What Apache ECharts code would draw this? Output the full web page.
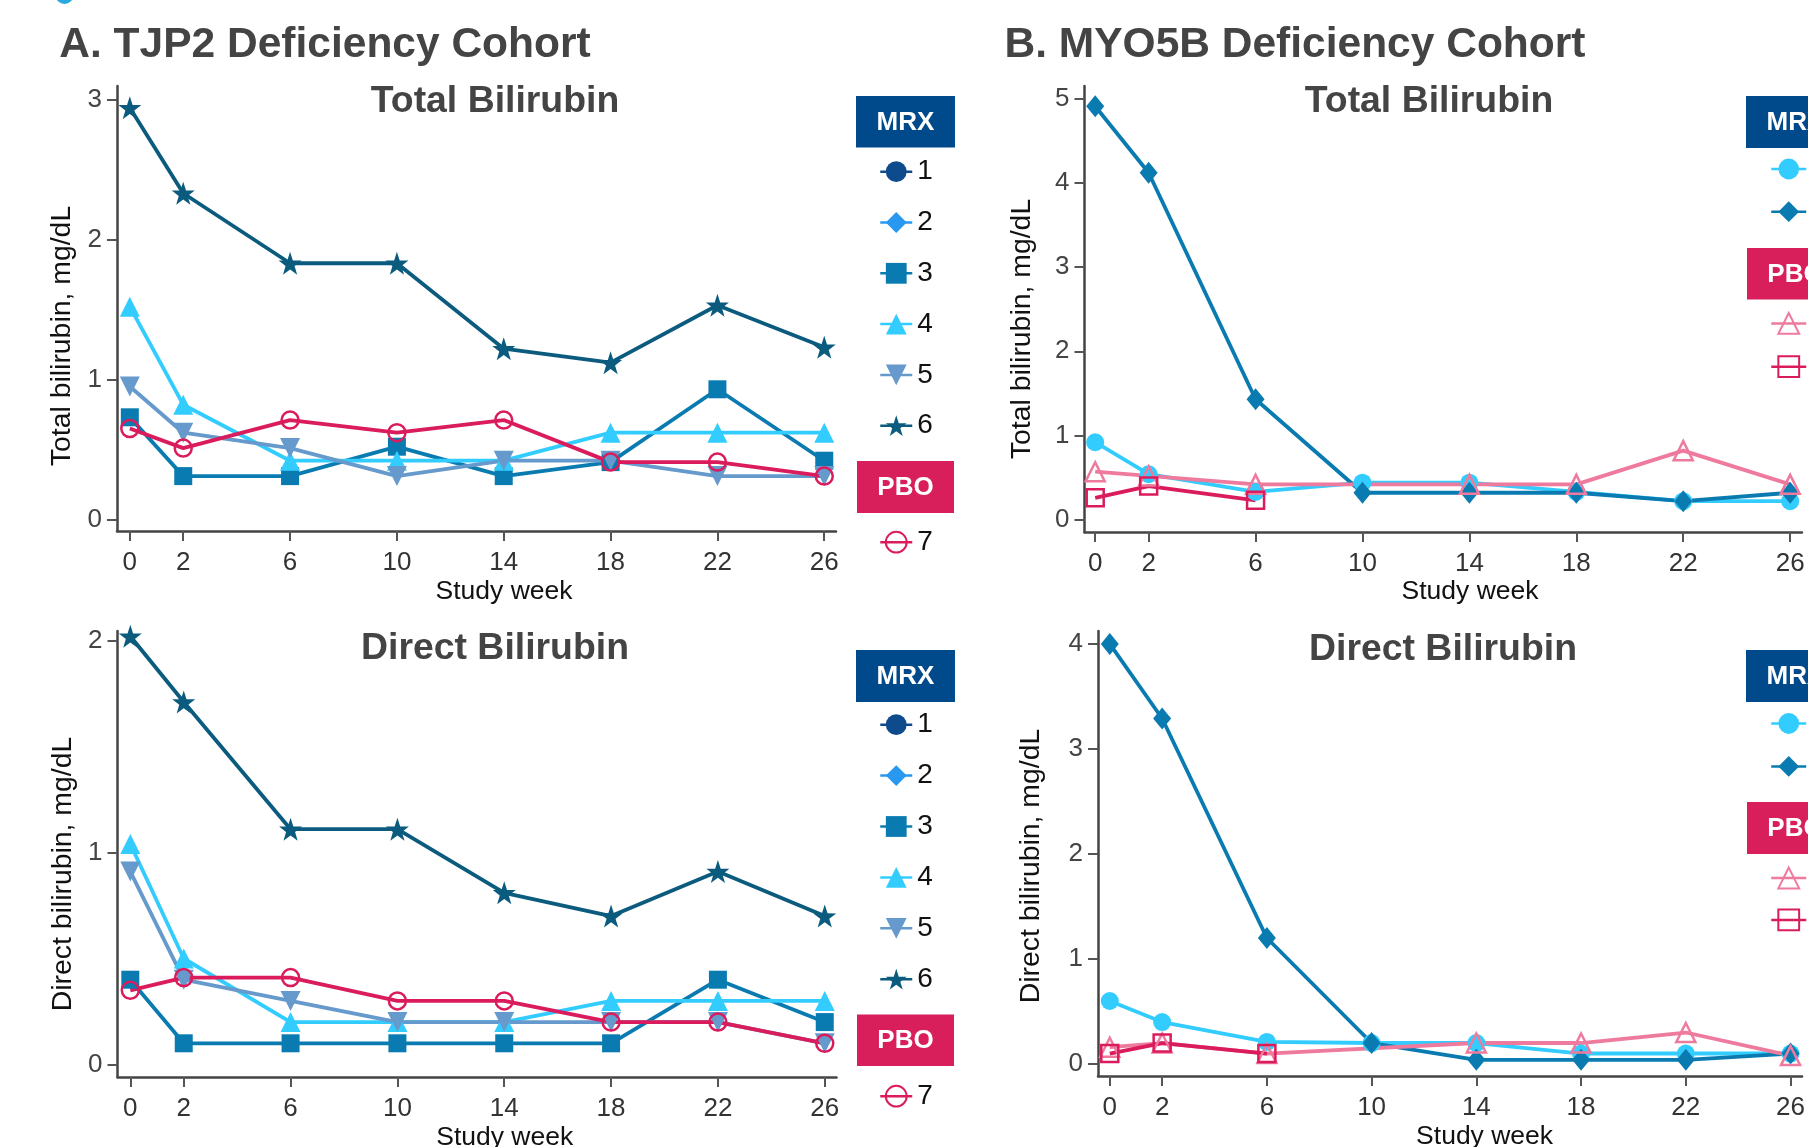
<!DOCTYPE html>
<html>
<head>
<meta charset="utf-8">
<script src="https://cdn.jsdelivr.net/npm/echarts@6/dist/echarts.min.js"></script>
<style>
html,body{margin:0;padding:0;background:#fff;overflow:hidden}
#c{width:1808px;height:1147px}
</style>
</head>
<body>
<div id="c"></div>
<script>
// ---------------- DATA ----------------
const weeks = [0, 2, 6, 10, 14, 18, 22, 26];
const weekTicks = [0, 2, 6, 10, 14, 18, 22, 26];
const aTotalTicks = [0, 1, 2, 3];
const aDirectTicks = [0, 1, 2];
const bTotalTicks = [0, 1, 2, 3, 4, 5];
const bDirectTicks = [0, 1, 2, 3, 4];

const panelTitleA = 'A. TJP2 Deficiency Cohort';
const panelTitleB = 'B. MYO5B Deficiency Cohort';
const subTotal = 'Total Bilirubin';
const subDirect = 'Direct Bilirubin';
const yNameTotal = 'Total bilirubin, mg/dL';
const yNameDirect = 'Direct bilirubin, mg/dL';
const xName = 'Study week';
const groupMRX = 'MRX';
const groupPBO = 'PBO';

// TJP2 cohort: patients 1-6 MRX, 7 PBO
const aNamesMRX = ['1', '2', '3', '4', '5', '6'];
const aNamesPBO = ['7'];
const aTotal1 = [null, null, null, null, null, null, null, null];
const aTotal2 = [null, null, null, null, null, null, null, null];
const aTotal3 = [0.73, 0.31, 0.31, 0.52, 0.31, 0.41, 0.93, 0.42];
const aTotal4 = [1.52, 0.82, 0.42, 0.42, 0.42, 0.62, 0.62, 0.62];
const aTotal5 = [0.95, 0.62, 0.51, 0.31, 0.42, 0.42, 0.31, 0.31];
const aTotal6 = [2.94, 2.33, 1.83, 1.83, 1.22, 1.12, 1.53, 1.23];
const aTotal7 = [0.65, 0.51, 0.71, 0.62, 0.71, 0.41, 0.41, 0.31];

const aDirect1 = [null, null, null, null, null, null, null, null];
const aDirect2 = [null, null, null, null, null, null, null, null];
const aDirect3 = [0.40, 0.10, 0.10, 0.10, 0.10, 0.10, 0.40, 0.20];
const aDirect4 = [1.04, 0.50, 0.20, 0.20, 0.20, 0.30, 0.30, 0.30];
const aDirect5 = [0.91, 0.40, 0.30, 0.20, 0.20, 0.20, 0.20, 0.10];
const aDirect6 = [2.02, 1.71, 1.11, 1.11, 0.81, 0.70, 0.91, 0.70];
const aDirect7 = [0.35, 0.41, 0.41, 0.30, 0.30, 0.20, 0.20, 0.10];

// MYO5B cohort: 2 MRX, 2 PBO
const bNamesMRX = ['MRX 1', 'MRX 2'];
const bNamesPBO = ['PBO 1', 'PBO 2'];
const bTotalM1 = [0.92, 0.54, 0.33, 0.44, 0.44, 0.33, 0.22, 0.22];
const bTotalM2 = [4.91, 4.12, 1.43, 0.32, 0.32, 0.32, 0.22, 0.32];
const bTotalP1 = [0.57, 0.52, 0.42, null, 0.42, 0.42, 0.82, 0.42];
const bTotalP2 = [0.26, 0.40, 0.23, null, null, null, null, null];

const bDirectM1 = [0.60, 0.40, 0.21, 0.20, 0.20, 0.10, 0.10, 0.10];
const bDirectM2 = [4.00, 3.29, 1.20, 0.20, 0.04, 0.04, 0.04, 0.10];
const bDirectP1 = [0.16, 0.20, 0.10, null, 0.20, 0.20, 0.30, 0.08];
const bDirectP2 = [0.10, 0.20, 0.10, null, null, null, null, null];

// ---------------- STYLE ----------------
const FONT = 'Liberation Sans, Arial, Helvetica, sans-serif';
const STAR = 'path://M50 0 L61.5 34.2 L97.6 34.5 L68.6 56 L79.4 90.5 L50 69.6 L20.6 90.5 L31.4 56 L2.4 34.5 L38.5 34.2 Z';
const C = {
  navy: '#0e4b8c', blue: '#2898f0', teal: '#0a7bb0', sky: '#33ccff',
  steel: '#6699cc', dark: '#0b5b7e', crimson: '#da1c5c', pink: '#ee7a9e',
  mrxBox: '#004a8b', pboBox: '#d81e5b', axis: '#444', text: '#444'
};
const styleA = {
  '1': { color: C.navy, symbol: 'circle', size: 18 },
  '2': { color: C.blue, symbol: 'diamond', size: [18, 22] },
  '3': { color: C.teal, symbol: 'rect', size: 18 },
  '4': { color: C.sky, symbol: 'triangle', size: 20 },
  '5': { color: C.steel, symbol: 'triangle', size: 20, rotate: 180 },
  '6': { color: C.dark, symbol: STAR, size: 23 },
  '7': { color: C.crimson, symbol: 'circle', size: 17, open: true }
};
const styleB = {
  'MRX 1': { color: C.sky, symbol: 'circle', size: 18 },
  'MRX 2': { color: C.teal, symbol: 'diamond', size: [18, 22] },
  'PBO 1': { color: C.pink, symbol: 'triangle', size: 19, open: true },
  'PBO 2': { color: C.crimson, symbol: 'rect', size: 17, open: true }
};

function pairs(vals) { return weeks.map((w, i) => [w, vals[i]]); }

function mkSeries(name, vals, st, idx) {
  return {
    type: 'line', name: name, xAxisIndex: idx, yAxisIndex: idx,
    data: pairs(vals), connectNulls: true,
    symbol: st.symbol, symbolSize: st.size, symbolRotate: st.rotate || 0,
    lineStyle: { color: st.color, width: 3.8 },
    itemStyle: st.open
      ? { color: 'rgba(255,255,255,0)', borderColor: st.color, borderWidth: 2.5 }
      : { color: st.color, borderWidth: 0 },
    emphasis: { disabled: true },
    silent: true
  };
}

function xAx(gi, min, max) {
  return {
    gridIndex: gi, type: 'value', min: min, max: max,
    splitLine: { show: false },
    axisLine: { show: true, onZero: false, lineStyle: { color: C.axis, width: 2.5 } },
    axisTick: { show: true, length: 10, customValues: weekTicks, lineStyle: { color: '#555', width: 2 } },
    axisLabel: { customValues: weekTicks, margin: 19, color: '#333', fontSize: 26, fontFamily: FONT }
  };
}
function yAx(gi, min, max, ticks) {
  return {
    gridIndex: gi, type: 'value', min: min, max: max,
    splitLine: { show: false },
    axisLine: { show: true, onZero: false, lineStyle: { color: C.axis, width: 2.5 } },
    axisTick: { show: true, length: 10, customValues: ticks, lineStyle: { color: '#555', width: 2 } },
    axisLabel: { customValues: ticks, margin: 15, color: C.text, fontSize: 26, fontFamily: FONT }
  };
}

function mkLegend(names, left, top, iw, gap, fmt) {
  return {
    orient: 'vertical', left: left, top: top, padding: 0,
    itemWidth: iw, itemHeight: 26, itemGap: gap, selectedMode: false,
    data: names,
    formatter: fmt || (n => n),
    lineStyle: { width: 2.5 },
    textStyle: { color: '#111', fontSize: 28, fontFamily: FONT }
  };
}

function txt(x, y, text, size, weight, color, rot) {
  return {
    type: 'text', x: x, y: y, rotation: rot || 0, silent: true,
    style: {
      text: text, fontSize: size, fontWeight: weight, fontFamily: FONT, fill: color,
      align: 'center', verticalAlign: 'middle', textAlign: 'center', textVerticalAlign: 'middle'
    }
  };
}
function header(x, y, w, h, label, color) {
  return [
    { type: 'rect', silent: true, shape: { x: x, y: y, width: w, height: h }, style: { fill: color } },
    txt(x + w / 2, y + h / 2 + 1, label, 26, 'bold', '#fff')
  ];
}

const series = [];
const aTot = [aTotal1, aTotal2, aTotal3, aTotal4, aTotal5, aTotal6, aTotal7];
const aDir = [aDirect1, aDirect2, aDirect3, aDirect4, aDirect5, aDirect6, aDirect7];
const aNames = aNamesMRX.concat(aNamesPBO);
aNames.forEach((n, i) => series.push(mkSeries(n, aTot[i], styleA[n], 0)));
aNames.forEach((n, i) => series.push(mkSeries(n, aDir[i], styleA[n], 1)));
const bNames = bNamesMRX.concat(bNamesPBO);
const bTot = [bTotalM1, bTotalM2, bTotalP1, bTotalP2];
const bDir = [bDirectM1, bDirectM2, bDirectP1, bDirectP2];
bNames.forEach((n, i) => series.push(mkSeries(n, bTot[i], styleB[n], 2)));
bNames.forEach((n, i) => series.push(mkSeries(n, bDir[i], styleB[n], 3)));

const bFmt = n => n.split(' ')[1];

const option = {
  animation: false,
  backgroundColor: '#fff',
  grid: [
    { left: 117, top: 86, width: 719, height: 445 },
    { left: 117.5, top: 631, width: 719, height: 446 },
    { left: 1084.5, top: 86, width: 717.4, height: 446 },
    { left: 1098, top: 631, width: 716.3, height: 445 }
  ],
  xAxis: [
    xAx(0, -0.48, 26.44), xAx(1, -0.48, 26.44),
    xAx(2, -0.40, 26.44), xAx(3, -0.45, 26.44)
  ],
  yAxis: [
    yAx(0, -0.082, 3.096, aTotalTicks),
    yAx(1, -0.059, 2.045, aDirectTicks),
    yAx(2, -0.146, 5.151, bTotalTicks),
    yAx(3, -0.114, 4.123, bDirectTicks)
  ],
  legend: [
    mkLegend(aNamesMRX, 879, 157.7, 32, 22.8),
    mkLegend(aNamesPBO, 879, 528.2, 32, 22.8),
    mkLegend(aNamesMRX, 879, 710.7, 32, 22.9),
    mkLegend(aNamesPBO, 879, 1082.2, 32, 22.9),
    mkLegend(bNamesMRX, 1770, 155, 35, 14.7, bFmt),
    mkLegend(bNamesPBO, 1770, 309.4, 35, 15.3, bFmt),
    mkLegend(bNamesMRX, 1770, 709.5, 35, 14.9, bFmt),
    mkLegend(bNamesPBO, 1770, 864, 35, 13.9, bFmt)
  ],
  graphic: [
    { type: 'circle', silent: true, shape: { cx: 64.5, cy: -5, r: 9 }, style: { fill: '#2aa7df' } },
    txt(325, 45, panelTitleA, 42.5, 'bold', C.text),
    txt(1295, 45, panelTitleB, 42.5, 'bold', C.text),
    txt(495, 102, subTotal, 37.4, 'bold', C.text),
    txt(495, 649, subDirect, 37.4, 'bold', C.text),
    txt(1429, 102, subTotal, 37.4, 'bold', C.text),
    txt(1443, 650, subDirect, 37.4, 'bold', C.text),
    txt(62.5, 336, yNameTotal, 28.4, 'normal', '#111', Math.PI / 2),
    txt(62.7, 874, yNameDirect, 28.4, 'normal', '#111', Math.PI / 2),
    txt(1021.7, 329, yNameTotal, 28.4, 'normal', '#111', Math.PI / 2),
    txt(1031.6, 866, yNameDirect, 28.4, 'normal', '#111', Math.PI / 2),
    txt(504, 592, xName, 26.5, 'normal', '#111'),
    txt(504.7, 1138, xName, 26.5, 'normal', '#111'),
    txt(1470, 592, xName, 26.5, 'normal', '#111'),
    txt(1484.6, 1137, xName, 26.5, 'normal', '#111')
  ]
    .concat(header(856, 96, 99, 51.5, groupMRX, C.mrxBox))
    .concat(header(857, 461, 97, 52, groupPBO, C.pboBox))
    .concat(header(856, 650, 99, 52, groupMRX, C.mrxBox))
    .concat(header(857, 1014.5, 97, 51.5, groupPBO, C.pboBox))
    .concat(header(1746, 96, 99, 52, groupMRX, C.mrxBox))
    .concat(header(1747, 248, 97, 51.5, groupPBO, C.pboBox))
    .concat(header(1746, 650, 99, 52, groupMRX, C.mrxBox))
    .concat(header(1747, 802, 97, 52, groupPBO, C.pboBox)),
  series: series
};

const chart = echarts.init(document.getElementById('c'), null, { renderer: 'canvas' });
chart.setOption(option);
</script>
</body>
</html>
